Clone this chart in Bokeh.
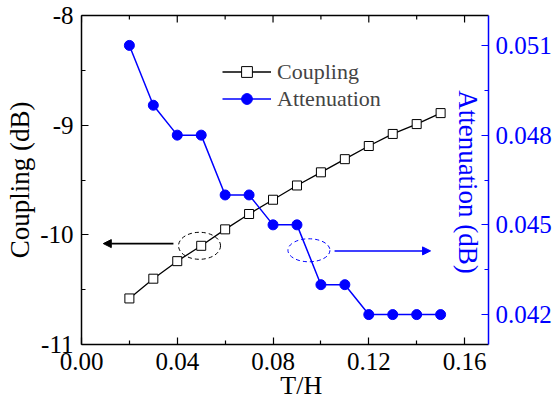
import math
from bokeh.plotting import figure
from bokeh.models import (LinearAxis, Range1d, FixedTicker, Legend, LegendItem,
                          Arrow, NormalHead, Label)
from bokeh.embed import file_html
from bokeh.resources import INLINE

# ---- data ----
t_h = [0.02, 0.03, 0.04, 0.05, 0.06, 0.07, 0.08, 0.09, 0.10, 0.11, 0.12, 0.13, 0.14, 0.15]
coupling = [-10.58, -10.40, -10.24, -10.10, -9.95, -9.81, -9.68, -9.55, -9.43, -9.31,
            -9.19, -9.08, -8.99, -8.89]
attenuation = [0.051, 0.049, 0.048, 0.048, 0.046, 0.046, 0.045, 0.045, 0.043, 0.043,
               0.042, 0.042, 0.042, 0.042]

x_ticks = [0.0, 0.04, 0.08, 0.12, 0.16]
x_tick_labels = ["0.00", "0.04", "0.08", "0.12", "0.16"]
x_minor = [0.02, 0.06, 0.10, 0.14]
y_ticks = [-11.0, -10.0, -9.0, -8.0]
y_tick_labels = ["-11", "-10", "-9", "-8"]
y_minor = [-10.5, -9.5, -8.5]
att_ticks = [0.042, 0.045, 0.048, 0.051]
att_tick_labels = ["0.042", "0.045", "0.048", "0.051"]
att_minor = [0.0435, 0.0465, 0.0495]

# annotation anchors
black_ellipse = (0.0493, -10.10)
blue_ellipse = (0.0950, 0.04415)
black_arrow = (0.0384, 0.0091, -10.08)
blue_arrow = (0.1057, 0.1458, 0.04413)

FONT = "Liberation Serif"
BLUE = "#0000ff"

p = figure(width=554, height=403, x_range=Range1d(0, 0.17), y_range=Range1d(-11, -8),
           output_backend="svg", toolbar_location=None,
           min_border_left=81, min_border_right=66, min_border_top=15, min_border_bottom=59)
p.extra_y_ranges = {"att": Range1d(0.041, 0.052)}
p.xgrid.visible = False
p.ygrid.visible = False
p.outline_line_color = None
p.background_fill_color = "white"
p.border_fill_color = "white"


def style_axis(ax, color="black"):
    ax.axis_line_color = color
    ax.axis_line_width = 1.5
    ax.major_tick_line_color = color
    ax.minor_tick_line_color = color
    ax.major_tick_line_width = 1.2
    ax.minor_tick_line_width = 1.2
    ax.major_tick_in = 7
    ax.major_tick_out = 0
    ax.minor_tick_in = 4
    ax.minor_tick_out = 0
    ax.major_label_text_font = FONT
    ax.major_label_text_color = color
    ax.major_label_text_font_size = "25px"
    ax.axis_label_text_font = FONT
    ax.axis_label_text_font_style = "normal"
    ax.axis_label_text_color = color


xa = p.xaxis[0]
xa.ticker = FixedTicker(ticks=x_ticks, minor_ticks=x_minor)
xa.major_label_overrides = dict(zip(x_ticks, x_tick_labels))
style_axis(xa)
xa.major_label_standoff = 8
xa.axis_label = "\u00a0" * 5 + "T/H"
xa.axis_label_text_font_size = "26px"
xa.axis_label_standoff = -2

ya = p.yaxis[0]
ya.ticker = FixedTicker(ticks=y_ticks, minor_ticks=y_minor)
ya.major_label_overrides = dict(zip(y_ticks, y_tick_labels))
style_axis(ya)
ya.major_label_standoff = 8
ya.axis_label = "Coupling (dB)"
ya.axis_label_text_font_size = "27px"
ya.axis_label_standoff = 2

# top spine: a bare axis line, with inward ticks drawn as clipped dash markers
top = LinearAxis(ticker=FixedTicker(ticks=[], minor_ticks=[]))
style_axis(top)
top.major_label_standoff = 0
p.add_layout(top, "above")
yr = p.y_range
p.scatter(x_ticks, [yr.end] * len(x_ticks), marker="dash", angle=math.pi / 2, size=14,
          line_color="black", line_width=1.2)
p.scatter(x_minor, [yr.end] * len(x_minor), marker="dash", angle=math.pi / 2, size=8,
          line_color="black", line_width=1.2)

ra = LinearAxis(y_range_name="att", ticker=FixedTicker(ticks=att_ticks, minor_ticks=att_minor))
ra.major_label_overrides = dict(zip(att_ticks, att_tick_labels))
style_axis(ra, color=BLUE)
ra.major_label_standoff = 7
p.add_layout(ra, "right")

# ---- series ----
l1 = p.line(t_h, coupling, line_color="black", line_width=1.3)
s1 = p.scatter(t_h, coupling, marker="square", size=9, fill_color="white",
               line_color="black", line_width=1)
l2 = p.line(t_h, attenuation, line_color=BLUE, line_width=1.5, y_range_name="att")
s2 = p.scatter(t_h, attenuation, marker="circle", size=10, fill_color=BLUE,
               line_color=BLUE, y_range_name="att")

# ---- annotations ----
p.ellipse(x=[black_ellipse[0]], y=[black_ellipse[1]], width=42, height=27,
          width_units="screen", height_units="screen", fill_color=None,
          line_color="black", line_dash="4 3", line_width=1)
p.ellipse(x=[blue_ellipse[0]], y=[blue_ellipse[1]], width=42, height=23,
          width_units="screen", height_units="screen", fill_color=None,
          line_color=BLUE, line_dash="4 3", line_width=1, y_range_name="att")
p.add_layout(Arrow(x_start=black_arrow[0], x_end=black_arrow[1], y_start=black_arrow[2],
                   y_end=black_arrow[2], line_color="black", line_width=1.6,
                   end=NormalHead(size=8, fill_color="black", line_color="black")))
p.add_layout(Arrow(x_start=blue_arrow[0], x_end=blue_arrow[1], y_start=blue_arrow[2],
                   y_end=blue_arrow[2], line_color=BLUE, line_width=1.5, y_range_name="att",
                   end=NormalHead(size=8, fill_color=BLUE, line_color=BLUE)))

# ---- right axis title (drawn inside the frame, as in the reference) ----
xr = p.x_range
ar = p.extra_y_ranges["att"]
p.add_layout(Label(x=xr.end, y=(ar.start + ar.end) / 2, y_range_name="att",
                   x_offset=-21, y_offset=-2,
                   text="Attenuation (dB)", text_font=FONT, text_font_size="27px",
                   text_color=BLUE, angle=-math.pi / 2, text_align="center",
                   text_baseline="alphabetic"))

# ---- legend ----
legend = Legend(items=[LegendItem(label="Coupling", renderers=[l1, s1]),
                       LegendItem(label="Attenuation", renderers=[l2, s2])],
                location=(141, 232), padding=0, margin=0, spacing=0,
                glyph_width=49, glyph_height=27, label_height=27, label_standoff=6,
                label_text_font=FONT, label_text_font_size="22px",
                border_line_color=None, background_fill_alpha=0)
p.add_layout(legend)

open("out.html", "w").write(file_html(p, INLINE))
